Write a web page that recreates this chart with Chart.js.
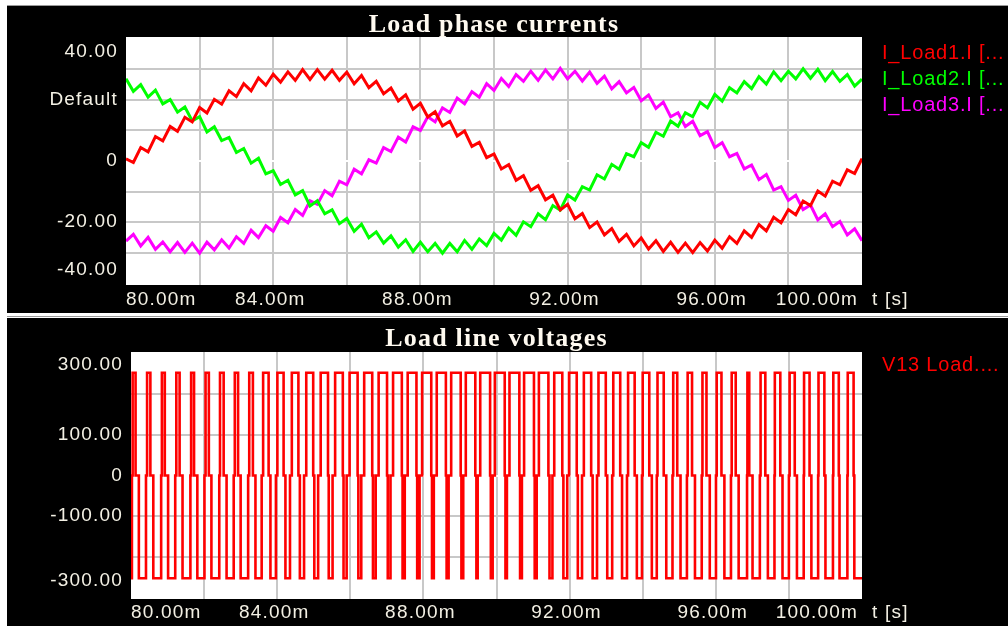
<!DOCTYPE html>
<html>
<head>
<meta charset="utf-8">
<title>Load phase currents / Load line voltages</title>
<script src="https://cdn.jsdelivr.net/npm/chart.js@4.4.1/dist/chart.umd.min.js"></script>
<style>
  html, body { margin: 0; padding: 0; background: #ffffff; }
  body { width: 1008px; height: 626px; position: relative; overflow: hidden; }
  canvas { position: absolute; left: 7px; background: #000000; }
  #currents { top: 6px; }
  #voltages { top: 318px; }
  .rule { position: absolute; left: 7px; width: 1001px; height: 1px; background: #9a9a9a; }
</style>
</head>
<body>
<div class="rule" style="top:5px"></div>
<canvas id="currents" width="1001" height="307"></canvas>
<div class="rule" style="top:316px"></div>
<canvas id="voltages" width="1001" height="308"></canvas>
<script>
// time axis [ms], one sample every 0.2 ms
const sampleTimes = [
  80.0, 80.2, 80.4, 80.6, 80.8, 81.0, 81.2, 81.4, 81.6, 81.8,
  82.0, 82.2, 82.4, 82.6, 82.8, 83.0, 83.2, 83.4, 83.6, 83.8,
  84.0, 84.2, 84.4, 84.6, 84.8, 85.0, 85.2, 85.4, 85.6, 85.8,
  86.0, 86.2, 86.4, 86.6, 86.8, 87.0, 87.2, 87.4, 87.6, 87.8,
  88.0, 88.2, 88.4, 88.6, 88.8, 89.0, 89.2, 89.4, 89.6, 89.8,
  90.0, 90.2, 90.4, 90.6, 90.8, 91.0, 91.2, 91.4, 91.6, 91.8,
  92.0, 92.2, 92.4, 92.6, 92.8, 93.0, 93.2, 93.4, 93.6, 93.8,
  94.0, 94.2, 94.4, 94.6, 94.8, 95.0, 95.2, 95.4, 95.6, 95.8,
  96.0, 96.2, 96.4, 96.6, 96.8, 97.0, 97.2, 97.4, 97.6, 97.8,
  98.0, 98.2, 98.4, 98.6, 98.8, 99.0, 99.2, 99.4, 99.6, 99.8,
  100.0
];

// phase currents [A]
const iLoad1 = [
  0.7, -0.5, 4.4, 3.0, 8.0, 6.6, 11.3, 9.7, 14.3, 12.8,
  17.5, 15.7, 20.2, 18.6, 23.0, 21.1, 25.3, 23.0, 27.2, 24.8,
  28.4, 25.8, 29.2, 26.4, 29.9, 26.7, 29.9, 26.8, 29.7, 26.4,
  29.1, 25.3, 28.0, 24.0, 26.1, 22.0, 23.9, 19.7, 21.7, 17.0,
  18.9, 14.4, 16.1, 11.5, 13.0, 8.2, 9.8, 4.8, 6.1, 1.1,
  2.3, -2.6, -1.2, -6.3, -4.8, -9.6, -8.1, -12.7, -11.2, -16.0,
  -14.2, -18.9, -17.2, -21.8, -20.0, -24.2, -22.1, -26.3, -24.0, -27.8,
  -25.2, -28.8, -26.1, -29.6, -26.6, -29.9, -26.9, -30.0, -26.7, -29.5,
  -25.9, -28.6, -24.8, -27.0, -22.9, -25.0, -20.8, -22.9, -18.4, -20.2,
  -15.9, -17.6, -13.1, -14.6, -9.8, -11.5, -6.6, -7.8, -2.9, -4.1,
  0.8
];
const iLoad2 = [
  26.9, 22.8, 25.0, 20.9, 23.2, 18.7, 20.1, 16.0, 17.7, 13.1,
  14.5, 9.5, 11.2, 6.7, 7.7, 2.8, 4.1, -0.7, 0.9, -4.2,
  -3.2, -7.7, -6.3, -11.1, -9.7, -14.7, -13.0, -17.3, -16.0, -20.5,
  -18.8, -23.0, -20.7, -25.1, -23.2, -26.9, -24.5, -28.2, -25.8, -29.6,
  -26.6, -29.7, -27.0, -30.2, -27.0, -29.7, -26.0, -28.9, -25.5, -27.7,
  -23.7, -25.9, -22.0, -24.3, -19.9, -21.5, -17.3, -19.2, -14.6, -16.1,
  -11.1, -12.8, -8.4, -9.5, -4.5, -5.9, -1.1, -2.7, 2.4, 1.4,
  6.0, 4.5, 9.4, 8.1, 13.1, 11.4, 15.8, 14.5, 19.2, 17.4,
  21.8, 19.6, 24.0, 22.3, 26.0, 23.7, 27.6, 25.2, 29.2, 26.3,
  29.4, 26.9, 30.2, 27.1, 30.0, 26.3, 29.3, 26.1, 28.3, 24.5,
  26.8
];
const iLoad3 = [
  -26.2, -24.0, -27.8, -25.0, -28.9, -26.5, -29.7, -26.7, -29.9, -26.9,
  -30.2, -26.6, -29.1, -25.8, -28.5, -24.8, -27.0, -22.7, -25.1, -21.2,
  -23.0, -18.5, -20.2, -15.9, -17.8, -13.0, -14.2, -9.7, -11.4, -6.6,
  -7.8, -2.7, -4.2, 0.4, -0.7, 4.4, 3.1, 7.8, 6.2, 11.2,
  10.0, 14.5, 12.8, 17.4, 15.9, 20.6, 18.7, 22.7, 20.9, 25.3,
  23.1, 27.0, 24.4, 28.3, 26.1, 29.4, 26.4, 29.8, 26.9, 30.3,
  26.9, 29.4, 26.2, 29.1, 25.4, 27.8, 23.6, 26.0, 22.3, 24.1,
  19.7, 21.6, 17.2, 19.3, 14.5, 15.8, 11.3, 13.0, 8.3, 9.6,
  4.4, 6.0, 1.4, 2.5, -2.6, -1.3, -6.1, -4.4, -9.5, -8.4,
  -12.9, -11.2, -15.9, -14.4, -19.3, -17.3, -21.5, -19.8, -24.2, -22.2,
  -26.1
];

// line voltage V13: switching instants [ms] of each carrier period
const lowToZero = [
  80.025, 80.41, 80.825, 81.21, 81.625, 82.01, 82.415, 82.81, 83.205, 83.575,
  83.965, 84.35, 84.735, 85.12, 85.515, 85.90, 86.30, 86.695, 87.10, 87.49,
  87.895, 88.285, 88.69, 89.09, 89.485, 89.895, 90.285, 90.695, 91.10, 91.53,
  91.935, 92.34, 92.75, 93.165, 93.57, 93.98, 94.385, 94.815, 95.21, 95.615,
  96.005, 96.415, 96.855, 97.205, 97.605, 98.00, 98.405, 98.80, 99.205, 99.60
];
const zeroToHigh = [
  80.045, 80.44, 80.845, 81.24, 81.645, 82.04, 82.435, 82.84, 83.235, 83.615,
  84.005, 84.40, 84.795, 85.19, 85.585, 85.98, 86.38, 86.775, 87.17, 87.57,
  87.965, 88.365, 88.76, 89.16, 89.555, 89.955, 90.355, 90.755, 91.16, 91.58,
  91.985, 92.39, 92.79, 93.195, 93.60, 94.00, 94.405, 94.835, 95.23, 95.635,
  96.025, 96.435, 96.865, 97.225, 97.615, 98.02, 98.415, 98.81, 99.215, 99.61
];
const highToZero = [
  80.125, 80.53, 80.925, 81.33, 81.725, 82.13, 82.535, 82.93, 83.335, 83.765,
  84.175, 84.58, 84.985, 85.39, 85.795, 86.20, 86.60, 87.005, 87.41, 87.81,
  88.215, 88.615, 89.02, 89.42, 89.825, 90.225, 90.625, 91.025, 91.42, 91.80,
  92.195, 92.59, 92.99, 93.385, 93.78, 94.18, 94.575, 94.945, 95.35, 95.745,
  96.155, 96.545, 96.915, 97.355, 97.765, 98.16, 98.565, 98.97, 99.365, 99.77
];
const zeroToLow = [
  80.215, 80.61, 81.015, 81.41, 81.815, 82.20, 82.615, 83.00, 83.405, 83.815,
  84.225, 84.62, 85.015, 85.41, 85.815, 86.22, 86.62, 87.025, 87.43, 87.83,
  88.235, 88.635, 89.04, 89.45, 89.845, 90.245, 90.645, 91.045, 91.45, 91.83,
  92.225, 92.63, 93.03, 93.435, 93.84, 94.25, 94.645, 95.035, 95.43, 95.835,
  96.235, 96.625, 97.005, 97.425, 97.825, 98.22, 98.615, 99.00, 99.385, 99.79
];
const vHigh = 252;
const vLow = -252;

// axes
const timeGrid = [82, 84, 86, 88, 90, 92, 94, 96, 98];
const timeLabelValues = [80, 84, 88, 92, 96, 100];
const timeLabels = ["80.00m", "84.00m", "88.00m", "92.00m", "96.00m", "100.00m"];
const currentGrid = [-30, -20, -10, 0, 10, 20, 30];
const currentLabelValues = [40, 20, 0, -20, -40];
const currentLabels = ["40.00", "Default", "0", "-20.00", "-40.00"];
const voltageGrid = [-200, -100, 0, 100, 200];
const voltageLabelValues = [300, 100, 0, -100, -300];
const voltageLabels = ["300.00", "100.00", "0", "-100.00", "-300.00"];

const currentNames = ["I_Load1.I [...", "I_Load2.I [...", "I_Load3.I [..."];
const currentColors = ["#ff0000", "#00ff00", "#ff00ff"];
const voltageNames = ["V13 Load...."];

const textColor = "#f3f0e4";
const gridColor = "#c8c8c8";

function pairs(xs, ys) {
  return xs.map((x, i) => ({ x: x, y: ys[i] }));
}

// step points for the PWM trace
function pwmPoints() {
  const pts = [{ x: 80, y: vLow }];
  for (let k = 0; k < lowToZero.length; k++) {
    pts.push({ x: lowToZero[k], y: 0 });
    pts.push({ x: zeroToHigh[k], y: vHigh });
    pts.push({ x: highToZero[k], y: 0 });
    pts.push({ x: zeroToLow[k], y: vLow });
  }
  pts.push({ x: 100, y: vLow });
  return pts;
}

function putText(ctx, text, x, y, font, color, align, baseline, spacing) {
  ctx.font = font;
  ctx.fillStyle = color;
  ctx.textAlign = align;
  ctx.textBaseline = baseline;
  if ("letterSpacing" in ctx) ctx.letterSpacing = spacing + "px";
  ctx.fillText(text, x, y);
}

// white plot field
const plotField = {
  id: "plotField",
  beforeDraw(chart) {
    const a = chart.chartArea;
    const ctx = chart.ctx;
    ctx.save();
    ctx.fillStyle = "#ffffff";
    ctx.fillRect(a.left, a.top, a.right - a.left, a.bottom - a.top);
    ctx.restore();
  },
};

// title, tick labels and legend around the plot
const panelText = {
  id: "panelText",
  afterDraw(chart, args, o) {
    const { ctx, chartArea: a, scales } = chart;
    const tickFont = "19px 'Liberation Sans', Arial, sans-serif";
    ctx.save();
    putText(ctx, o.title, (a.left + a.right) / 2, o.titleY,
      "bold 26px 'Liberation Serif', 'Times New Roman', serif", "#fffaf0", "center", "alphabetic", 1.2);

    o.yValues.forEach((v, i) => {
      let y = scales.y.getPixelForValue(v);
      y = Math.min(Math.max(y, a.top + o.clampTop), a.bottom - o.clampBottom);
      putText(ctx, o.yLabels[i], a.left - 8, y, tickFont, textColor, "right", "middle", 1.2);
    });

    const xy = a.bottom + o.xLabelGap;
    timeLabelValues.forEach((v, i) => {
      const x = scales.x.getPixelForValue(v);
      if (i === 0) {
        putText(ctx, timeLabels[i], a.left, xy, tickFont, textColor, "left", "middle", 1.2);
      } else if (i === timeLabelValues.length - 1) {
        putText(ctx, timeLabels[i], a.right - 4, xy, tickFont, textColor, "right", "middle", 1.2);
      } else {
        putText(ctx, timeLabels[i], x - 3, xy, tickFont, textColor, "center", "middle", 1.2);
      }
    });
    putText(ctx, "t [s]", a.right + 10, xy, tickFont, textColor, "left", "middle", 1.2);

    o.legend.forEach((name, i) => {
      putText(ctx, name, 875, o.legendY + i * 26, "20px 'Liberation Sans', Arial, sans-serif",
        o.legendColors[i], "left", "middle", 0.8);
    });
    ctx.restore();
  },
};

function panelOptions(yMin, yMax, yGrid, padding, text) {
  const gridLine = {
    color: (c) => (c.tick && c.tick.value === 0 ? "#ffffff" : gridColor),
    lineWidth: 2,
    drawTicks: false,
  };
  return {
    responsive: false,
    animation: false,
    devicePixelRatio: 1,
    layout: { padding: padding },
    events: [],
    plugins: {
      legend: { display: false },
      title: { display: false },
      tooltip: { enabled: false },
      panelText: text,
    },
    scales: {
      x: {
        type: "linear",
        min: 80,
        max: 100,
        afterBuildTicks: (s) => { s.ticks = timeGrid.map((v) => ({ value: v })); },
        afterFit: (s) => { s.height = 0; },
        ticks: { display: false },
        grid: gridLine,
        border: { display: false },
      },
      y: {
        type: "linear",
        min: yMin,
        max: yMax,
        afterBuildTicks: (s) => { s.ticks = yGrid.map((v) => ({ value: v })); },
        afterFit: (s) => { s.width = 0; },
        ticks: { display: false },
        grid: gridLine,
        border: { display: false },
      },
    },
  };
}

const traceStyle = {
  pointRadius: 0,
  tension: 0,
  fill: false,
  borderJoinStyle: "miter",
  borderCapStyle: "butt",
};

new Chart(document.getElementById("currents"), {
  type: "line",
  data: {
    datasets: [iLoad1, iLoad2, iLoad3].map((vals, i) => ({
      ...traceStyle,
      label: currentNames[i],
      data: pairs(sampleTimes, vals),
      borderColor: currentColors[i],
      borderWidth: 3,
    })),
  },
  options: panelOptions(-40.6, 40.6, currentGrid,
    { left: 119, right: 146, top: 31, bottom: 28 },
    {
      title: "Load phase currents",
      titleY: 26,
      yValues: currentLabelValues,
      yLabels: currentLabels,
      clampTop: 15,
      clampBottom: 15,
      xLabelGap: 15,
      legend: currentNames,
      legendColors: currentColors,
      legendY: 47,
    }),
  plugins: [plotField, panelText],
});

new Chart(document.getElementById("voltages"), {
  type: "line",
  data: {
    datasets: [{
      ...traceStyle,
      label: voltageNames[0],
      data: pwmPoints(),
      borderColor: "#ff0000",
      borderWidth: 2.6,
      stepped: true,
    }],
  },
  options: panelOptions(-303, 303, voltageGrid,
    { left: 124, right: 146, top: 34, bottom: 27 },
    {
      title: "Load line voltages",
      titleY: 28,
      yValues: voltageLabelValues,
      yLabels: voltageLabels,
      clampTop: 13,
      clampBottom: 18,
      xLabelGap: 14,
      legend: voltageNames,
      legendColors: ["#ff0000"],
      legendY: 47,
    }),
  plugins: [plotField, panelText],
});
</script>
</body>
</html>
